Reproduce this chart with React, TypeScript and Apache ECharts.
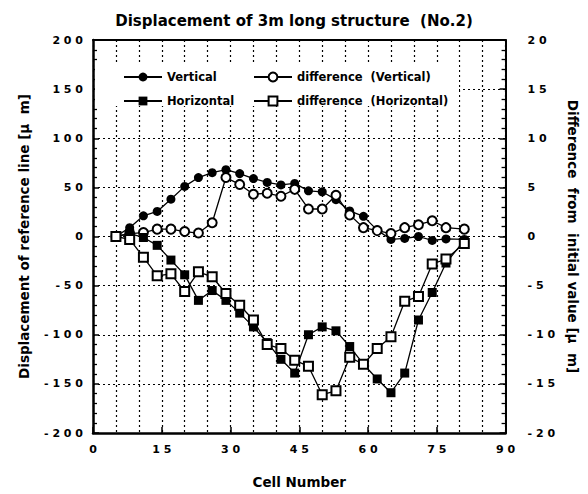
import React, { useEffect, useRef } from "react";
import * as echarts from "echarts";

const cells = [5, 8, 11, 14, 17, 20, 23, 26, 29, 32, 35, 38, 41, 44, 47, 50, 53, 56, 59, 62, 65, 68, 71, 74, 77, 81];
const vertical = [0, 9, 21, 25.5, 38, 51, 60, 65, 68, 64, 59, 55, 52.5, 54, 46.5, 45.5, 37.5, 26, 20.5, 6.5, -3, -2, 0, -4, -2.5, -3];
const diffVertical = [0, 0.3, 0.4, 0.75, 0.75, 0.5, 0.35, 1.4, 6.0, 5.3, 4.3, 4.4, 4.1, 4.8, 2.8, 2.8, 4.2, 2.2, 0.9, 0.6, 0.3, 0.9, 1.2, 1.6, 0.9, 0.75];
const horizontal = [0, 3, -1, -9, -24, -39, -65, -55, -65, -78, -92, -108, -125, -139, -100, -92, -96, -112, -130, -145, -159, -139, -85, -57, -27, -4];
const diffHorizontal = [0, -0.3, -2.1, -4.0, -3.8, -5.6, -3.6, -4.1, -5.8, -7.0, -8.5, -11.0, -11.4, -12.6, -13.2, -16.1, -15.7, -12.3, -13.0, -11.4, -10.2, -6.6, -6.1, -2.8, -2.3, -0.7];

const titleText = "Displacement of 3m long structure  (No.2)";
const xName = "Cell Number";
const leftName = "Displacement of reference line [\u03bc  m]";
const rightName = "Difference  from  initial value [\u03bc  m]";

const FONT = "'DejaVu Sans', sans-serif";
const spaced = (v: number) => String(v).split("").join(" ");

export default function App() {
  const ref = useRef<HTMLDivElement>(null);
  useEffect(() => {
    if (!ref.current) return;
    const chart = echarts.init(ref.current, null, { renderer: "svg" });
    const pair = (arr: number[]) => cells.map((c, i) => [c, arr[i]]);
    const black = "#000";
    const lineStyle = { color: black, width: 1.3 };
    const labelStyle = { color: black, fontWeight: "bold" as const, fontSize: 11, fontFamily: FONT };
    const nameStyle = { color: black, fontWeight: "bold" as const, fontSize: 13.5, fontFamily: FONT };
    const dotted = { type: [2, 3] as number[], color: black, width: 1.2 };
    chart.setOption({
      animation: false,
      backgroundColor: "#fff",
      title: {
        text: titleText,
        left: "center",
        top: 8,
        textStyle: { color: black, fontWeight: "bold", fontSize: 15, fontFamily: FONT },
      },
      grid: { left: 93, right: 74, top: 40, bottom: 57, containLabel: false },
      graphic: [
        { type: "rect", shape: { x: 95, y: 63, width: 364, height: 43 }, style: { fill: "#fff" }, z: 3 },
      ],
      legend: [
        {
          data: ["Vertical", "Horizontal"],
          orient: "vertical",
          left: 118,
          top: 66,
          itemWidth: 38,
          itemHeight: 11,
          itemGap: 12,
          textStyle: { ...labelStyle, fontSize: 11.5 },
          z: 5,
        },
        {
          data: ["difference  (Vertical)", "difference  (Horizontal)"],
          orient: "vertical",
          left: 248,
          top: 66,
          itemWidth: 38,
          itemHeight: 11,
          itemGap: 12,
          textStyle: { ...labelStyle, fontSize: 11.5 },
          z: 5,
        },
      ],
      xAxis: [
        {
          type: "value",
          min: 0,
          max: 90,
          interval: 15,
          position: "bottom",
          name: xName,
          nameLocation: "middle",
          nameGap: 42,
          nameTextStyle: nameStyle,
          axisLine: { show: true, onZero: false, lineStyle: { color: black, width: 2.5 } },
          axisTick: { show: true, inside: true, length: 6, lineStyle: { color: black, width: 1.5 } },
          axisLabel: { ...labelStyle, margin: 11, formatter: (v: number) => spaced(v) },
          splitLine: { show: false },
        },
        {
          type: "value",
          min: 0,
          max: 90,
          interval: 5,
          position: "top",
          axisLine: { show: true, onZero: false, lineStyle: { color: black, width: 2 } },
          axisTick: { show: false },
          axisLabel: { show: false },
          splitLine: { show: true, lineStyle: dotted },
        },
      ],
      yAxis: [
        {
          type: "value",
          min: -200,
          max: 200,
          interval: 50,
          position: "left",
          name: leftName,
          nameLocation: "middle",
          nameGap: 62,
          nameRotate: 90,
          nameTextStyle: nameStyle,
          axisLine: { show: true, onZero: false, lineStyle: { color: black, width: 2.5 } },
          axisTick: { show: true, inside: true, length: 6, lineStyle: { color: black, width: 1.5 } },
          minorTick: { show: true, splitNumber: 5, length: 4, lineStyle: { color: black, width: 1.3 } },
          axisLabel: { ...labelStyle, margin: 10, formatter: (v: number) => spaced(v) },
          splitLine: { show: true, lineStyle: dotted },
        },
        {
          type: "value",
          min: -20,
          max: 20,
          interval: 5,
          position: "right",
          name: rightName,
          nameLocation: "middle",
          nameGap: 58,
          nameRotate: -90,
          nameTextStyle: nameStyle,
          axisLine: { show: true, onZero: false, lineStyle: { color: black, width: 2 } },
          axisTick: { show: true, inside: true, length: 6, lineStyle: { color: black, width: 1.5 } },
          minorTick: { show: true, splitNumber: 5, length: 4, lineStyle: { color: black, width: 1.3 } },
          axisLabel: { ...labelStyle, margin: 22, formatter: (v: number) => spaced(v) },
          splitLine: { show: false },
        },
      ],
      series: [
        {
          name: "Vertical",
          type: "line",
          xAxisIndex: 0,
          yAxisIndex: 0,
          data: pair(vertical),
          symbol: "circle",
          symbolSize: 9,
          lineStyle,
          itemStyle: { color: black },
          z: 3,
        },
        {
          name: "difference  (Vertical)",
          type: "line",
          xAxisIndex: 0,
          yAxisIndex: 1,
          data: pair(diffVertical),
          symbol: "emptyCircle",
          symbolSize: 9,
          lineStyle,
          itemStyle: { color: black, borderWidth: 1.3 },
          z: 3,
        },
        {
          name: "Horizontal",
          type: "line",
          xAxisIndex: 0,
          yAxisIndex: 0,
          data: pair(horizontal),
          symbol: "rect",
          symbolSize: 9,
          lineStyle,
          itemStyle: { color: black },
          z: 3,
        },
        {
          name: "difference  (Horizontal)",
          type: "line",
          xAxisIndex: 0,
          yAxisIndex: 1,
          data: pair(diffHorizontal),
          symbol: "emptyRect",
          symbolSize: 9,
          lineStyle,
          itemStyle: { color: black, borderWidth: 1.3 },
          z: 3,
        },
      ],
    });
    return () => chart.dispose();
  }, []);
  return <div ref={ref} style={{ width: 588, height: 494, position: "absolute", left: 0, top: 0 }} />;
}
